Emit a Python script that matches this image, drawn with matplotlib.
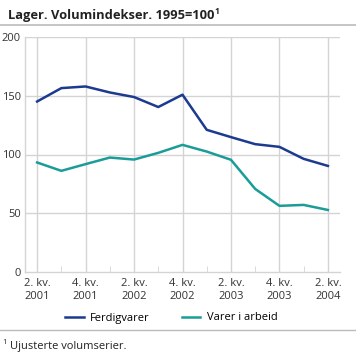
import matplotlib
matplotlib.use("Agg")
import matplotlib.pyplot as plt
from matplotlib.lines import Line2D

plt.rcParams['font.family'] = ['Open Sans', 'DejaVu Sans']

quarters = ["2. kv.\n2001", "3. kv.\n2001", "4. kv.\n2001", "1. kv.\n2002", "2. kv.\n2002",
            "3. kv.\n2002", "4. kv.\n2002", "1. kv.\n2003", "2. kv.\n2003", "3. kv.\n2003",
            "4. kv.\n2003", "1. kv.\n2004", "2. kv.\n2004"]
ferdigvarer = [145.1, 156.5, 157.9, 152.8, 148.9, 140.4, 150.9, 121.0, 114.8, 108.8, 106.5, 96.3, 90.3]
varer_i_arbeid = [93.2, 86.1, 91.8, 97.4, 95.7, 101.4, 108.2, 102.5, 95.5, 70.7, 56.3, 57.1, 52.8]
yticks = [0, 50, 100, 150, 200]

W, H = 356, 353
fig = plt.figure(figsize=(W / 100, H / 100), dpi=100)
ax = fig.add_axes([25 / W, 1 - 272 / H, 315 / W, 235 / H])

x = list(range(len(quarters)))
blue = '#1c3a8f'
teal = '#1a9c98'
grid = '#d4d4d4'

ax.plot(x, ferdigvarer, color=blue, lw=1.8, label='Ferdigvarer', zorder=3)
ax.plot(x, varer_i_arbeid, color=teal, lw=1.8, label='Varer i arbeid', zorder=3)

ax.set_xlim(-0.5, len(quarters) - 0.5)
ax.set_ylim(0, 200)
ax.set_yticks(yticks)
ax.set_yticklabels([str(v) for v in yticks], fontsize=8, color='#333333')

major = x[::2]
ax.set_xticks(major)
ax.set_xticklabels(quarters[::2], fontsize=8, color='#333333', linespacing=1.35)
ax.set_xticks(x[1::2], minor=True)
ax.tick_params(axis='x', which='major', length=0, pad=4)
ax.tick_params(axis='x', which='minor', direction='in', length=4, color=grid)
ax.tick_params(axis='y', length=0, pad=3)

for v in major:
    ax.axvline(v, color=grid, lw=1, zorder=1)
for v in yticks[1:]:
    ax.axhline(v, color=grid, lw=1, zorder=1)

for s in ['top', 'right']:
    ax.spines[s].set_visible(False)
for s in ['left', 'bottom']:
    ax.spines[s].set_color(grid)
    ax.spines[s].set_linewidth(1)

# title
t = fig.text(8 / W, 1 - 15 / H, "Lager. Volumindekser. 1995=100", fontsize=9.3, fontweight='bold',
             va='center', ha='left', color='#222222')
fig.canvas.draw()
bb = t.get_window_extent(fig.canvas.get_renderer())
fig.text(bb.x1 / W + 0.5 / W, 1 - 11 / H, "1", fontsize=6, fontweight='bold', va='center',
         ha='left', color='#222222')
fig.add_artist(Line2D([0, 1], [1 - 24.5 / H, 1 - 24.5 / H], color='#bbbbbb', lw=1.2,
                      transform=fig.transFigure))

# legend
handles, labels = ax.get_legend_handles_labels()
fig.legend(handles, labels, loc='center', bbox_to_anchor=(171 / W, 1 - 318 / H), ncol=2,
           frameon=False, fontsize=8, handlelength=1.7, columnspacing=2.9, handletextpad=0.55)

# footer
fig.add_artist(Line2D([0, 1], [1 - 330 / H, 1 - 330 / H], color='#bbbbbb', lw=1,
                      transform=fig.transFigure))
fig.text(2 / W, 1 - 343 / H, "1", fontsize=5.5, va='center', ha='left', color='#222222')
fig.text(10 / W, 1 - 347 / H, "Ujusterte volumserier.", fontsize=8, va='center', ha='left',
         color='#222222')

fig.savefig('out.png', dpi=100)
